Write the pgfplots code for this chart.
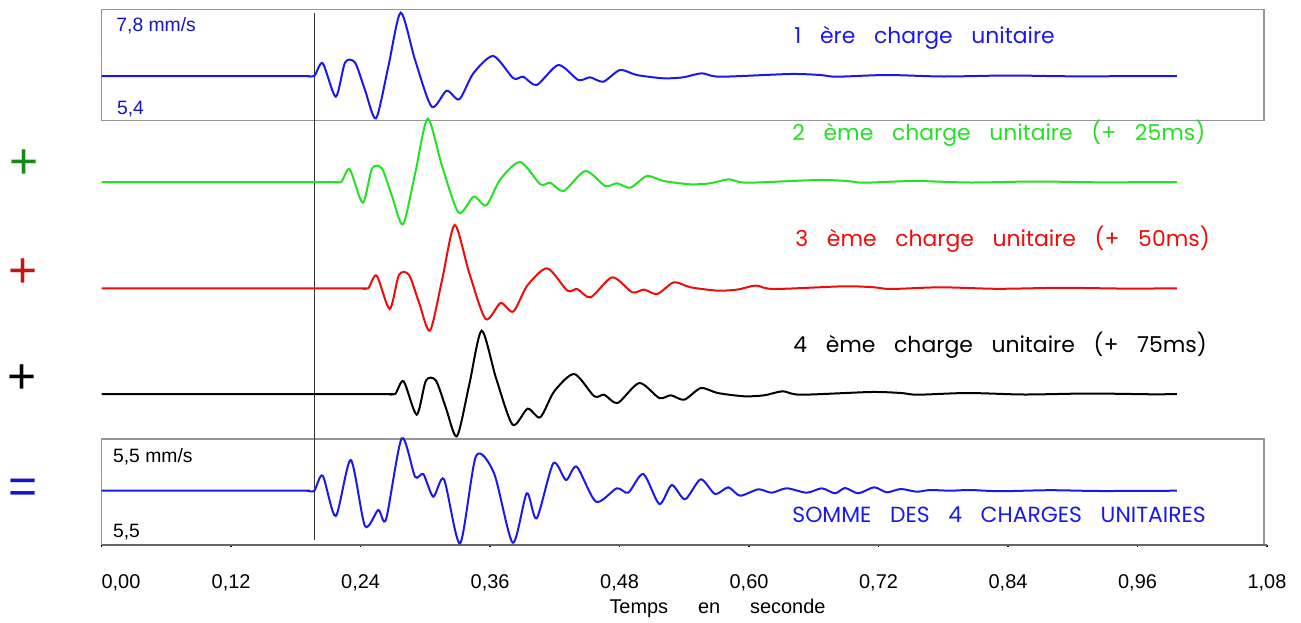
\documentclass[border=0pt]{standalone}
\usepackage{pgfplots}
\pgfplotsset{compat=1.18}
\usepackage{pgfplotstable}
\usepackage{fontspec}
\setmainfont{Liberation Sans}
\newfontfamily\geo{Poppins}
\newcommand\wtext[2]{{\spaceskip #1\relax #2}}

\definecolor{tblue}{RGB}{25,25,235}
\definecolor{tgreen}{RGB}{35,225,35}
\definecolor{tred}{RGB}{240,10,10}
\definecolor{boxgray}{RGB}{150,150,150}
\definecolor{pgreen}{RGB}{20,140,20}
\definecolor{pred}{RGB}{200,20,20}
\definecolor{pblue}{RGB}{20,20,200}

% one unit charge: time (s) and amplitude (px above baseline)
\pgfplotstableread{
t a
0 0
0.1800 0
0.1900 0
0.1971 0
0.2049 12.7
0.2170 -20.7
0.2256 13.5
0.2348 13.5
0.2441 -14
0.2543 -42.3
0.2657 9.3
0.2772 63.3
0.2905 16
0.3059 -30.7
0.3198 -14.7
0.3315 -23.3
0.3445 2.7
0.3630 20
0.3816 -2.3
0.3908 -0.7
0.4032 -9
0.4233 11
0.4418 -4
0.4526 -1.3
0.4650 -5.7
0.4804 6
0.4959 1
0.5206 -2.3
0.5391 -1.3
0.5562 2.7
0.5731 -0.7
0.6380 2
0.6658 1
0.6813 -0.7
0.7276 1
0.7800 -0.5
0.8400 0.5
0.9000 -0.3
0.9964 0
}\charge

% sum of the 4 charges
\pgfplotstableread{
t a
0 0
0.1800 0
0.1900 0
0.1971 0
0.2049 15
0.2170 -25.3
0.2309 30.7
0.2441 -35.3
0.2564 -19.3
0.2636 -28.6
0.2781 52.4
0.2905 14
0.2981 16.7
0.3074 -6
0.3173 11.4
0.3322 -52.6
0.3470 34.7
0.3637 17.4
0.3810 -52
0.3940 -2.6
0.4032 -27.6
0.4186 27.4
0.4304 10.7
0.4403 24
0.4582 -11
0.4774 2.4
0.4881 -2
0.5020 16.7
0.5169 -13.3
0.5284 5.7
0.5407 -8.6
0.5552 11.4
0.5685 -3.3
0.5808 3.4
0.5917 -5
0.6086 1.4
0.6210 -2
0.6349 2.4
0.6535 -2
0.6674 2.4
0.6797 -2.6
0.6890 2.7
0.7013 -2.6
0.7158 3.4
0.7276 -1.6
0.7406 1.7
0.7554 -1
0.7677 0.7
0.7863 0
0.8048 0.7
0.8326 -0.5
0.8790 0.5
0.9255 -0.3
0.9964 0
}\somme

\begin{document}
\begin{tikzpicture}
\path[use as bounding box] (0,0) rectangle (650.5bp,-311.5bp);
\begin{scope}[x=0.5bp,y=-0.5bp]
  \draw[boxgray, line width=0.75bp] (101.7,9.3) rectangle (1264,120.7);
  \draw[boxgray, line width=0.75bp] (101.7,439) rectangle (1264,545);
  \draw[black!80, line width=0.5bp] (314.3,13) -- (314.3,540);
\end{scope}
\begin{axis}[
  at={(50.8bp,-272.5bp)}, anchor=south west,
  scale only axis, width=582.7bp, height=272.5bp,
  xmin=0, xmax=1.08, ymin=0, ymax=545,
  hide y axis, axis x line*=bottom,
  x axis line style={draw=black!60, line width=0.75bp},
  xtick={0,0.12,0.24,0.36,0.48,0.6,0.72,0.84,0.96,1.08},
  xticklabels={{\makebox[0pt][l]{0,00}},{0,12},{0,24},{0,36},{0,48},{0,60},{0,72},{0,84},{0,96},{1,08}},
  tick align=outside, major tick length=1bp,
  xtick style={black, line width=0.75bp},
  xticklabel style={font=\fontsize{10}{12}\selectfont, anchor=base, yshift=-20.5bp},
  clip=false,
]
\addplot[tblue, line width=1bp, smooth, tension=0.45] table[x=t, y expr=469+\thisrow{a}] {\charge};
\addplot[tgreen, line width=1bp, smooth, tension=0.45] table[x expr={\thisrow{t}==0 ? 0 : min(\thisrow{t}+0.025,0.9964)}, y expr=363+\thisrow{a}] {\charge};
\addplot[tred, line width=1bp, smooth, tension=0.45] table[x expr={\thisrow{t}==0 ? 0 : min(\thisrow{t}+0.05,0.9964)}, y expr=256.7+\thisrow{a}] {\charge};
\addplot[black, line width=1bp, smooth, tension=0.45] table[x expr={\thisrow{t}==0 ? 0 : min(\thisrow{t}+0.075,0.9964)}, y expr=151+\thisrow{a}] {\charge};
\addplot[tblue, line width=1bp, smooth, tension=0.45] table[x=t, y expr=54.3+\thisrow{a}] {\somme};
\end{axis}
\begin{scope}[x=0.5bp,y=-0.5bp]
  \tikzset{lab/.style={anchor=base west, inner sep=0pt, font=\geo\fontsize{11}{13}\selectfont}}
  \node[lab, text=tblue] at (794,43) {\wtext{0.85em}{1 ère charge unitaire}};
  \node[lab, text=tgreen] at (792,140.7) {\wtext{0.85em}{2 ème charge unitaire (+ 25ms)}};
  \node[lab, text=tred] at (795,246.5) {\wtext{0.85em}{3 ème charge unitaire (+ 50ms)}};
  \node[lab, text=black] at (793,353) {\wtext{0.85em}{4 ème charge unitaire (+ 75ms)}};
  \node[lab, text=tblue] at (792,522.7) {\wtext{0.85em}{SOMME DES 4 CHARGES UNITAIRES}};
  \tikzset{val/.style={anchor=base west, inner sep=0pt, font=\fontsize{9.7}{11}\selectfont}}
  \node[val, text=pblue] at (116,31.7) {7,8 mm/s};
  \node[val, text=pblue] at (116.7,114.3) {5,4};
  \node[val, text=black] at (112.7,462.3) {5,5 mm/s};
  \node[val, text=black] at (112.7,537.3) {5,5};
  \node[anchor=base, inner sep=0pt, font=\fontsize{10}{12}\selectfont] at (717.5,614) {\wtext{1.5em}{Temps en seconde}};
  \tikzset{sym/.style={inner sep=0pt, font=\fontsize{25}{28}\selectfont}}
  \node[sym, text=pgreen] at (24.3,164) {+};
  \node[sym, text=pred] at (23.3,273.3) {+};
  \node[sym, text=black] at (21.7,379.3) {+};
  \node[sym, text=pblue] at (22.7,491.7) {=};
\end{scope}
\end{tikzpicture}
\end{document}
